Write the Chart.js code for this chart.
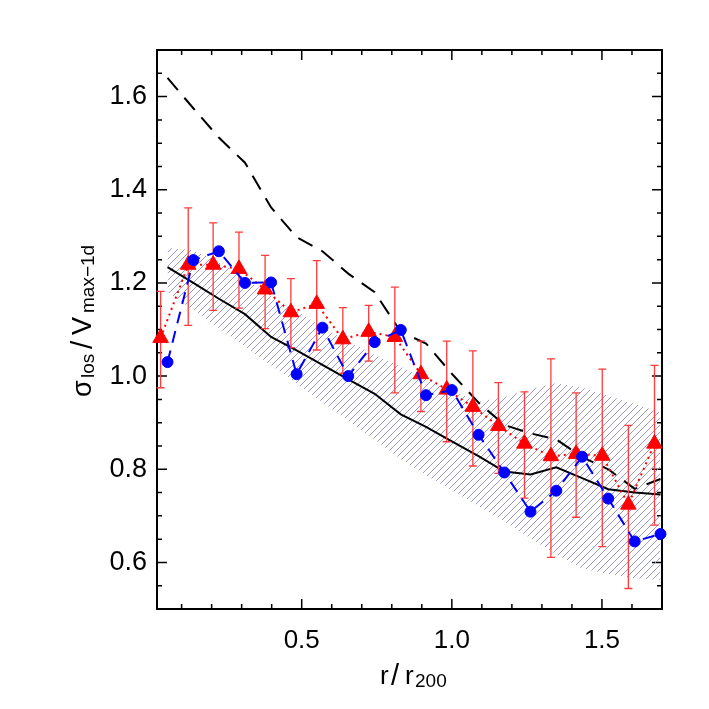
<!DOCTYPE html>
<html>
<head>
<meta charset="utf-8">
<script src="https://cdn.jsdelivr.net/npm/chart.js@4.4.0/dist/chart.umd.min.js"></script>
<style>
  html, body { margin: 0; padding: 0; background: #fff; }
  #wrap { width: 709px; height: 709px; }
</style>
</head>
<body>
<div id="wrap"><canvas id="chart" width="709" height="709"></canvas></div>
<script>
// red triangles with error bars
const redX  = [0.030, 0.122, 0.205, 0.291, 0.378, 0.464, 0.550, 0.637, 0.723, 0.810, 0.897, 0.983, 1.070, 1.155, 1.242, 1.330, 1.414, 1.501, 1.588, 1.675];
const redY  = [1.082, 1.239, 1.239, 1.230, 1.186, 1.137, 1.155, 1.079, 1.095, 1.084, 1.004, 0.971, 0.934, 0.893, 0.855, 0.828, 0.833, 0.829, 0.724, 0.855];
const redLo = [0.975, 1.109, 1.141, 1.146, 1.102, 1.061, 1.056, 1.006, 1.032, 0.964, 0.924, 0.859, 0.807, 0.791, 0.738, 0.611, 0.697, 0.634, 0.544, 0.680];
const redHi = [1.182, 1.361, 1.329, 1.309, 1.259, 1.209, 1.248, 1.147, 1.152, 1.191, 1.075, 1.075, 1.054, 0.986, 0.966, 1.037, 0.964, 1.015, 0.894, 1.023];

// blue circles, black curves and hatched band share the same radii
const blueX   = [0.053, 0.139, 0.224, 0.311, 0.398, 0.483, 0.569, 0.655, 0.743, 0.830, 0.914, 1.000, 1.089, 1.175, 1.262, 1.348, 1.434, 1.521, 1.609, 1.695];
const blueY   = [1.030, 1.249, 1.268, 1.200, 1.201, 1.004, 1.104, 1.000, 1.073, 1.099, 0.959, 0.970, 0.874, 0.793, 0.709, 0.754, 0.827, 0.737, 0.645, 0.661];
const solidY  = [1.234, 1.200, 1.166, 1.133, 1.084, 1.055, 1.024, 0.993, 0.962, 0.918, 0.891, 0.860, 0.828, 0.795, 0.789, 0.804, 0.781, 0.757, 0.750, 0.746];
const dashedY = [1.640, 1.575, 1.512, 1.458, 1.362, 1.298, 1.268, 1.220, 1.180, 1.095, 1.070, 1.005, 0.943, 0.895, 0.877, 0.864, 0.826, 0.800, 0.758, 0.779];
const bandHi  = [1.275, 1.270, 1.245, 1.210, 1.172, 1.140, 1.105, 1.075, 1.045, 1.020, 0.995, 0.968, 0.945, 0.955, 0.972, 0.985, 0.975, 0.958, 0.940, 0.922];
const bandLo  = [1.180, 1.142, 1.103, 1.063, 1.023, 0.984, 0.944, 0.904, 0.864, 0.822, 0.787, 0.755, 0.721, 0.688, 0.652, 0.617, 0.587, 0.575, 0.566, 0.562];

const FONT = '"Liberation Sans", Arial, sans-serif';

function pts(xs, ys) {
  return xs.map((x, i) => ({ x: x, y: ys[i] }));
}

function isMajor(v, step) {
  return Math.abs(v / step - Math.round(v / step)) < 1e-6;
}

function hatch() {
  const n = 7;
  const c = document.createElement('canvas');
  c.width = n; c.height = n;
  const g = c.getContext('2d');
  g.strokeStyle = '#9a9ad0';
  g.lineWidth = 1;
  g.beginPath();
  g.moveTo(-1, n + 1); g.lineTo(n + 1, -1);
  g.moveTo(-1, 1); g.lineTo(1, -1);
  g.moveTo(n - 1, n + 1); g.lineTo(n + 1, n - 1);
  g.stroke();
  return g.createPattern(c, 'repeat');
}

// frame and inward ticks on all four sides
const frameTicks = {
  id: 'frameTicks',
  beforeDatasetsDraw(chart) {
    const { ctx, chartArea: a, scales: { x, y } } = chart;
    ctx.save();
    ctx.strokeStyle = '#000';
    ctx.lineWidth = 1.5;
    ctx.beginPath();
    x.ticks.forEach(t => {
      const px = x.getPixelForValue(t.value);
      if (px < a.left + 2 || px > a.right - 2) return;
      const len = isMajor(t.value, 0.5) ? 10 : 5;
      ctx.moveTo(px, a.bottom); ctx.lineTo(px, a.bottom - len);
      ctx.moveTo(px, a.top); ctx.lineTo(px, a.top + len);
    });
    y.ticks.forEach(t => {
      const py = y.getPixelForValue(t.value);
      if (py < a.top + 2 || py > a.bottom - 2) return;
      const len = isMajor(t.value, 0.2) ? 10 : 5;
      ctx.moveTo(a.left, py); ctx.lineTo(a.left + len, py);
      ctx.moveTo(a.right, py); ctx.lineTo(a.right - len, py);
    });
    ctx.stroke();
    ctx.lineWidth = 2;
    ctx.strokeRect(a.left, a.top, a.right - a.left, a.bottom - a.top);
    ctx.restore();
  }
};

// red error bars, drawn just under the triangles
const errorBars = {
  id: 'errorBars',
  beforeDatasetDraw(chart, args) {
    if (args.index !== 4) return;
    const { ctx, scales: { x, y } } = chart;
    ctx.save();
    ctx.strokeStyle = '#ff3b3b';
    ctx.lineWidth = 1.3;
    ctx.beginPath();
    redX.forEach((v, i) => {
      const px = x.getPixelForValue(v);
      const top = y.getPixelForValue(redHi[i]);
      const bot = y.getPixelForValue(redLo[i]);
      ctx.moveTo(px, top); ctx.lineTo(px, bot);
      ctx.moveTo(px - 4, top); ctx.lineTo(px + 4, top);
      ctx.moveTo(px - 4, bot); ctx.lineTo(px + 4, bot);
    });
    ctx.stroke();
    ctx.restore();
  }
};

function drawParts(ctx, parts) {
  parts.forEach(p => {
    ctx.font = p[1] + 'px ' + FONT;
    ctx.fillText(p[0], p[3], p[2]);
  });
}

// axis titles with subscripts
const titles = {
  id: 'titles',
  afterDraw(chart) {
    const ctx = chart.ctx;
    ctx.save();
    ctx.fillStyle = '#000';
    ctx.textBaseline = 'alphabetic';
    ctx.textAlign = 'left';
    ctx.save();
    ctx.translate(0, 683.5);
    drawParts(ctx, [['r', 26, 0, 380], ['/', 29, 1, 391], ['r', 26, 0, 405], ['200', 19, 3.5, 415]]);
    ctx.restore();
    ctx.translate(90.5, 397);
    ctx.rotate(-Math.PI / 2);
    drawParts(ctx, [['σ', 27, 0, 0], ['los', 19, 3, 19], ['/', 30, 1, 48], ['V', 27, 0, 62], ['max\u22121d', 19, 3, 84]]);
    ctx.restore();
  }
};

new Chart(document.getElementById('chart'), {
  type: 'line',
  data: {
    datasets: [
      { data: pts(blueX, bandHi), fill: '+1', backgroundColor: hatch(), borderWidth: 0, pointRadius: 0, order: 10 },
      { data: pts(blueX, bandLo), fill: false, borderWidth: 0, pointRadius: 0, order: 11 },
      { data: pts(blueX, solidY), borderColor: '#000', borderWidth: 2, pointRadius: 0, order: 6 },
      { data: pts(blueX, dashedY), borderColor: '#000', borderWidth: 2, borderDash: [16, 10], pointRadius: 0, order: 5 },
      { data: pts(redX, redY), borderColor: '#ff0000', borderWidth: 2, borderDash: [2, 4],
        pointStyle: 'triangle', pointRadius: 9, pointBackgroundColor: '#ff0000', pointBorderColor: '#ff0000',
        pointBorderWidth: 1, clip: false, order: 2 },
      { data: pts(blueX, blueY), borderColor: '#0000ff', borderWidth: 2, borderDash: [12, 8],
        pointStyle: 'circle', pointRadius: 5.5, pointBackgroundColor: '#0000ff', pointBorderColor: '#0000ff',
        pointBorderWidth: 1, clip: false, order: 1 }
    ]
  },
  options: {
    responsive: false,
    animation: false,
    devicePixelRatio: 1,
    layout: { padding: { left: 0, right: 47, top: 50, bottom: 0 } },
    elements: { line: { tension: 0 } },
    plugins: { legend: { display: false }, tooltip: { enabled: false } },
    scales: {
      x: {
        type: 'linear', min: 0.018, max: 1.70,
        grid: { display: false, drawTicks: false }, border: { display: false },
        ticks: {
          stepSize: 0.1, includeBounds: false, autoSkip: false, maxRotation: 0, padding: 16,
          color: '#000', font: { family: FONT, size: 26 },
          callback: v => isMajor(v, 0.5) ? v.toFixed(1) : ''
        },
        afterFit: s => { s.height = 100; }
      },
      y: {
        type: 'linear', min: 0.5, max: 1.7,
        grid: { display: false, drawTicks: false }, border: { display: false },
        ticks: {
          stepSize: 0.05, includeBounds: false, autoSkip: false, padding: 10,
          color: '#000', font: { family: FONT, size: 27 },
          callback: v => (isMajor(v, 0.2) && v > 0.55 && v < 1.65) ? v.toFixed(1) : ''
        },
        afterFit: s => { s.width = 157; }
      }
    }
  },
  plugins: [frameTicks, errorBars, titles]
});
</script>
</body>
</html>
